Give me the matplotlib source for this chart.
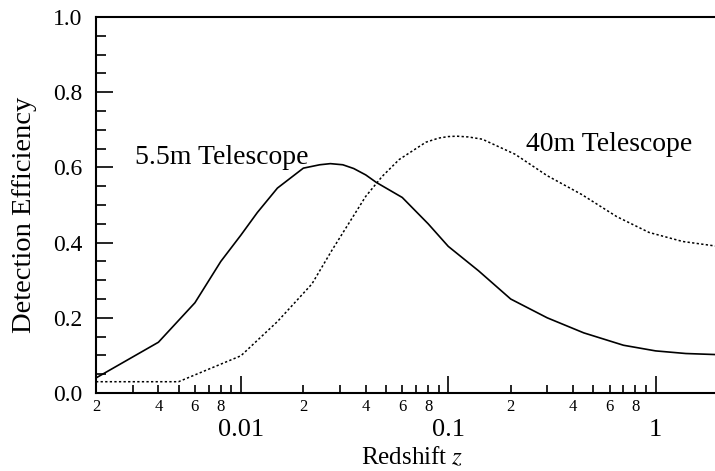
import numpy as np
import matplotlib
matplotlib.use("Agg")
import matplotlib.pyplot as plt
from matplotlib.ticker import LogLocator, FuncFormatter, MultipleLocator

plt.rcParams['font.family'] = ['Liberation Serif', 'DejaVu Serif']
plt.rcParams['mathtext.fontset'] = 'stix'

# 5.5m telescope (solid)
z_small = [0.002, 0.004, 0.006, 0.008, 0.01, 0.012, 0.015, 0.02, 0.024, 0.027, 0.031,
           0.035, 0.04, 0.045, 0.06, 0.08, 0.1, 0.14, 0.2, 0.3, 0.45, 0.7, 1.0, 1.4, 2.0]
eff_small = [0.04, 0.135, 0.24, 0.35, 0.42, 0.48, 0.545, 0.598, 0.607, 0.61, 0.607,
             0.597, 0.58, 0.56, 0.52, 0.45, 0.39, 0.325, 0.25, 0.2, 0.16, 0.127, 0.112,
             0.105, 0.102]

# 40m telescope (dotted)
z_big = [0.002, 0.005, 0.01, 0.015, 0.022, 0.0275, 0.04, 0.048, 0.058, 0.078, 0.09,
         0.1, 0.11, 0.125, 0.146, 0.21, 0.3, 0.44, 0.65, 0.93, 1.35, 2.0]
eff_big = [0.03, 0.03, 0.099, 0.19, 0.29, 0.38, 0.523, 0.576, 0.621, 0.667, 0.678,
           0.682, 0.683, 0.681, 0.675, 0.635, 0.578, 0.528, 0.469, 0.427, 0.403, 0.39]

fig = plt.figure(figsize=(7.15, 4.71), dpi=100)
ax = fig.add_axes([96/715, 78/471, 622/715, 376/471])

ax.plot(z_small, eff_small, color='black', lw=1.2)
ax.plot(z_big, eff_big, color='black', lw=1.1, ls=(0, (1.5, 1.5)))

ax.set_xscale('log')
ax.set_xlim(0.002, 2)
ax.set_ylim(0, 1.0)

ax.xaxis.set_major_locator(LogLocator(base=10, numticks=10))
ax.xaxis.set_major_formatter(FuncFormatter(lambda v, p: '%g' % v))
ax.xaxis.set_minor_locator(LogLocator(base=10, subs=np.arange(2, 10), numticks=20))

def minor_fmt(v, p):
    m = int(round(v / 10 ** np.floor(np.log10(v) + 1e-9)))
    return str(m) if m in (2, 4, 6, 8) else ''

ax.xaxis.set_minor_formatter(FuncFormatter(minor_fmt))

ax.yaxis.set_major_locator(MultipleLocator(0.2))
ax.yaxis.set_minor_locator(MultipleLocator(0.05))
ax.yaxis.set_major_formatter(FuncFormatter(lambda v, p: '%.1f' % v))

ax.tick_params(axis='both', which='both', direction='in', width=1.2)
ax.tick_params(axis='x', which='major', length=12, pad=19, labelsize=19)
ax.tick_params(axis='x', which='minor', length=6, pad=4, labelsize=12)
ax.tick_params(axis='y', which='major', length=12, pad=10, labelsize=17)
ax.tick_params(axis='y', which='minor', length=7)

for s in ['left', 'bottom', 'top']:
    ax.spines[s].set_linewidth(1.5)
ax.spines['right'].set_visible(False)

ax.set_xlabel('Redshift $z$', fontsize=18)
ax.xaxis.set_label_coords(0.508, -0.14)
ax.set_ylabel('Detection Efficiency', fontsize=20.5)
ax.yaxis.set_label_coords(-0.095, 0.475)

ax.text(0.00308, 0.627, '5.5m Telescope', fontsize=20, ha='left', va='center')
ax.text(0.238, 0.661, '40m Telescope', fontsize=20, ha='left', va='center')

fig.savefig('out.png', dpi=100)
